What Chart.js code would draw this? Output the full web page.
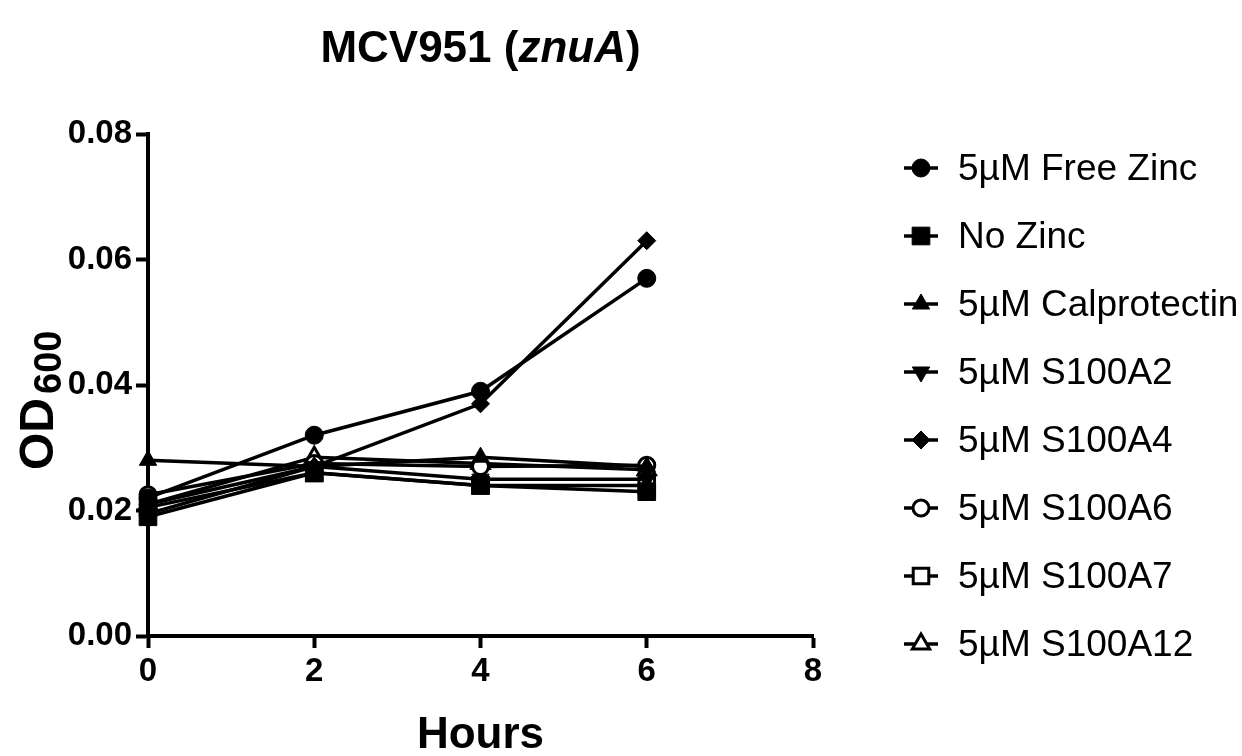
<!DOCTYPE html>
<html>
<head>
<meta charset="utf-8">
<script src="https://cdn.jsdelivr.net/npm/chart.js"></script>
<style>
  body { margin: 0; background: #fff; }
  canvas { display: block; }
</style>
</head>
<body>
<canvas id="chart" width="1242" height="756"></canvas>
<script>
const hours = [0, 2, 4, 6];
const freeZinc = [0.022, 0.032, 0.039, 0.057];
const noZinc = [0.019, 0.026, 0.024, 0.023];
const calprotectin = [0.028, 0.027, 0.0285, 0.027];
const s100a2 = [0.0195, 0.027, 0.025, 0.025];
const s100a4 = [0.021, 0.027, 0.037, 0.063];
const s100a6 = [0.0225, 0.0275, 0.027, 0.0272];
const s100a7 = [0.0205, 0.026, 0.024, 0.024];
const s100a12 = [0.021, 0.0285, 0.0275, 0.0265];
const xTicks = [0, 2, 4, 6, 8];
const yTicks = [0, 0.02, 0.04, 0.06, 0.08];

const FONT = "'Liberation Sans', Arial, sans-serif";

function series(label, values, style, radius, open, rotation) {
    return {
        label: label,
        data: hours.map((h, i) => ({ x: h, y: values[i] })),
        borderColor: '#000',
        borderWidth: 3.5,
        pointStyle: style,
        pointRadius: radius,
        pointHoverRadius: radius,
        pointRotation: rotation || 0,
        pointBackgroundColor: open ? '#fff' : '#000',
        pointBorderColor: '#000',
        pointBorderWidth: open ? 3 : 1,
        fill: false,
        tension: 0,
        clip: false
    };
}

const datasets = [
    series('5µM Free Zinc', freeZinc, 'circle', 9, false),
    series('No Zinc', noZinc, 'rect', 12.5, false),
    series('5µM Calprotectin', calprotectin, 'triangle', 10, false),
    series('5µM S100A2', s100a2, 'triangle', 10, false, 180),
    series('5µM S100A4', s100a4, 'rectRot', 9, false),
    series('5µM S100A6', s100a6, 'circle', 8, true),
    series('5µM S100A7', s100a7, 'rect', 11, true),
    series('5µM S100A12', s100a12, 'triangle', 10, true)
];

// titles with mixed styles and the legend with line + marker
const extras = {
    id: 'extras',
    afterDraw(chart) {
        const ctx = chart.ctx;
        const area = chart.chartArea;
        ctx.save();
        ctx.fillStyle = '#000';
        ctx.textBaseline = 'alphabetic';

        // title
        let parts = [['MCV951 (', 'bold'], ['znuA', 'italic bold'], [')', 'bold']];
        let total = 0;
        parts.forEach(p => { ctx.font = p[1] + ' 44px ' + FONT; total += ctx.measureText(p[0]).width; });
        let x = (area.left + area.right) / 2 - total / 2;
        parts.forEach(p => {
            ctx.font = p[1] + ' 44px ' + FONT;
            ctx.fillText(p[0], x, 62);
            x += ctx.measureText(p[0]).width;
        });

        // x title
        ctx.font = 'bold 44px ' + FONT;
        ctx.textAlign = 'center';
        ctx.fillText('Hours', (area.left + area.right) / 2, 748);

        // y title
        ctx.save();
        ctx.translate(53, 470);
        ctx.rotate(-Math.PI / 2);
        ctx.textAlign = 'left';
        ctx.font = 'bold 48px ' + FONT;
        ctx.fillText('OD', 0, 0);
        const w = ctx.measureText('OD').width;
        ctx.font = 'bold 38px ' + FONT;
        ctx.fillText('600', w + 4, 8);
        ctx.restore();

        // legend
        ctx.textAlign = 'left';
        ctx.textBaseline = 'middle';
        ctx.font = '37px ' + FONT;
        chart.data.datasets.forEach((ds, i) => {
            const y = 168 + i * 68;
            ctx.strokeStyle = '#000';
            ctx.lineWidth = 3.5;
            ctx.beginPath();
            ctx.moveTo(904, y);
            ctx.lineTo(938, y);
            ctx.stroke();
            ctx.fillStyle = ds.pointBackgroundColor;
            ctx.lineWidth = ds.pointBorderWidth;
            Chart.helpers.drawPoint(ctx, {
                pointStyle: ds.pointStyle,
                rotation: ds.pointRotation,
                radius: ds.pointRadius,
                borderWidth: ds.pointBorderWidth
            }, 921, y);
            ctx.fillStyle = '#000';
            ctx.fillText(ds.label, 958, y + 2);
        });
        ctx.restore();
    }
};

new Chart(document.getElementById('chart'), {
    type: 'line',
    data: { datasets: datasets },
    options: {
        responsive: false,
        animation: false,
        devicePixelRatio: 1,
        layout: { padding: { left: 0, right: 429, top: 134, bottom: 0 } },
        plugins: {
            legend: { display: false },
            tooltip: { enabled: false }
        },
        scales: {
            x: {
                type: 'linear',
                min: 0,
                max: 8,
                afterFit: s => { s.height = 120; },
                afterBuildTicks: s => { s.ticks = xTicks.map(v => ({ value: v })); },
                grid: { drawOnChartArea: false, drawTicks: true, tickLength: 12, tickWidth: 4, tickColor: '#000' },
                border: { display: true, color: '#000', width: 4 },
                ticks: {
                    color: '#000',
                    padding: 4,
                    font: { family: FONT, size: 33, weight: 'bold' },
                    maxRotation: 0,
                    callback: v => String(v)
                }
            },
            y: {
                min: 0,
                max: 0.08,
                afterFit: s => { s.width = 148; },
                afterBuildTicks: s => { s.ticks = yTicks.map(v => ({ value: v })); },
                grid: { drawOnChartArea: false, drawTicks: true, tickLength: 12, tickWidth: 4, tickColor: '#000' },
                border: { display: true, color: '#000', width: 4 },
                ticks: {
                    color: '#000',
                    padding: 4,
                    font: { family: FONT, size: 33, weight: 'bold' },
                    callback: v => v.toFixed(2)
                }
            }
        }
    },
    plugins: [extras]
});
</script>
</body>
</html>
